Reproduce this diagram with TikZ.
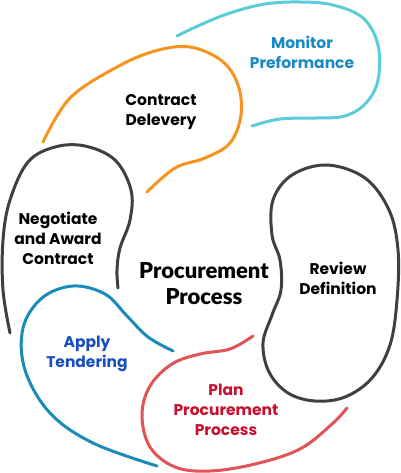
\documentclass[tikz,border=0pt]{standalone}
\usepackage{fontspec}
\newfontfamily\pop{Poppins}
\newfontfamily\latb{Lato Black}
\definecolor{ccyan}{HTML}{5CCCD8}
\definecolor{corange}{HTML}{F7931E}
\definecolor{cgray}{HTML}{404040}
\definecolor{cblue}{HTML}{1A8BB9}
\definecolor{cred}{HTML}{E05356}
\definecolor{tmon}{HTML}{1B8AC4}
\definecolor{tapp}{HTML}{1A4DBF}
\definecolor{tplan}{HTML}{C8102E}
\tikzset{
  curve/.style={line width=3pt, line cap=round},
  lbl/.style={font=\pop\bfseries\fontsize{15.5}{20}\selectfont, align=center, inner sep=0pt},
}
\begin{document}
\begin{tikzpicture}[x=1pt,y=-1pt]
\useasboundingbox (0,0) rectangle (400,473);
% cyan
\draw[curve, ccyan] plot[smooth, tension=0.6] coordinates {(252,126) (280,119) (317,118) (345,116) (366,103) (378,80) (378,45) (363,18) (333,5) (300,2) (265,4) (230,13) (200,25) (177,36)};
% orange
\draw[curve, corange] plot[smooth, tension=0.6] coordinates {(43,142) (70,98) (117,67) (155,51) (190,47) (222,61) (238,85) (241,115) (230,143) (205,158) (175,168) (147,192)};
% gray negotiate
\draw[curve, cgray] plot[smooth, tension=0.6] coordinates {(10,333) (3,290) (3,240) (10,200) (28,162) (55,147) (85,146) (115,160) (131,190) (130,220) (120,248) (117,270) (118,288)};
% blue
\draw[curve, cblue] plot[smooth, tension=0.6] coordinates {(173,351) (148,337) (127,316) (105,294) (73,286) (42,298) (23,328) (25,370) (50,413) (93,443) (157,466)};
% red
\draw[curve, cred] plot[smooth, tension=0.6] coordinates {(253,336) (230,349) (200,354) (172,364) (150,386) (142,415) (150,447) (175,467) (210,471) (255,464) (300,449) (332,424) (347,408)};
% gray review
\draw[curve, cgray] plot[smooth cycle, tension=0.6] coordinates {(327,165) (365,178) (389,210) (398,250) (397,300) (390,345) (372,378) (345,397) (315,401) (288,393) (269,372) (263,343) (272,315) (281,290) (280,260) (272,235) (273,200) (292,175)};
\node[lbl, text=tmon] (mon) at (302,52) {Monitor\\Preformance};
\node[lbl] (con) at (161,112) {Contract\\Delevery};
\node[lbl] (neg) at (58,238) {Negotiate\\and Award\\Contract};
\node[lbl] (rev) at (338,278) {Review\\Definition};
\node[lbl, text=tapp] (app) at (87,354) {Apply\\Tendering};
\node[lbl, text=tplan] (plan) at (226,410) {Plan\\Procurement\\Process};
\node[font=\latb\fontsize{22}{26}\selectfont, align=center, inner sep=0pt] (proc) at (204,284) {Procurement\\Process};
\end{tikzpicture}
\end{document}
